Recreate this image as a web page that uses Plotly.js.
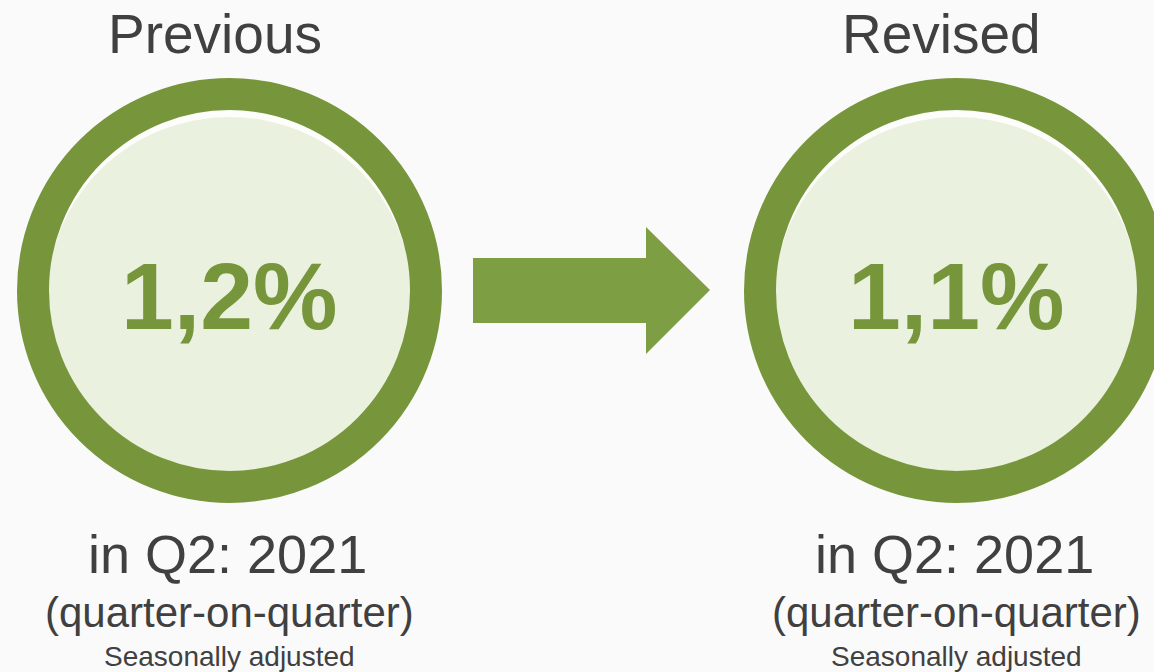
<!DOCTYPE html>
<html>
<head>
<meta charset="utf-8">
<script src="https://cdn.plot.ly/plotly-3.0.1.min.js"></script>
<style>
html,body{margin:0;padding:0;background:#FAFAFA;overflow:hidden;}
#chart{width:1154px;height:672px;}
#chart text{font-kerning:none;font-feature-settings:"kern" 0;}
</style>
</head>
<body>
<div id="chart"></div>
<script>
// Data
const stages = ["Previous", "Revised"];
const growthValues = [1.2, 1.1];
const periodLabel = "in Q2: 2021";
const basisLabel = "(quarter-on-quarter)";
const adjustmentLabel = "Seasonally adjusted";

// Layout geometry (pixel-space axes)
const W = 1154, H = 672;
const centersX = [229.5, 956.5];
const centerY = 290.5;
const outerR = 212.5;
const ringW = 32;
const ring = "#77963C";
const fillC = "#EBF1DF";
const glossC = "#FDFDFB";
const arrowC = "#7E9E43";
const textC = "#404040";
const fontFam = "Liberation Sans, Arial, sans-serif";

const shapes = [];
const annotations = [];

stages.forEach((s, i) => {
  const cx = centersX[i];
  const innerR = outerR - ringW + 1;
  // white gloss base
  shapes.push({
    type: "circle", xref: "x", yref: "y",
    x0: cx - innerR, x1: cx + innerR, y0: centerY - innerR, y1: centerY + innerR,
    fillcolor: glossC, line: {width: 0}, layer: "below"
  });
  // light fill, shifted down at top to leave a gloss crescent
  shapes.push({
    type: "circle", xref: "x", yref: "y",
    x0: cx - innerR, x1: cx + innerR, y0: centerY - innerR + 8, y1: centerY + innerR,
    fillcolor: fillC, line: {width: 0}, layer: "below"
  });
  const r = outerR - ringW / 2;
  shapes.push({
    type: "circle", xref: "x", yref: "y",
    x0: cx - r, x1: cx + r, y0: centerY - r, y1: centerY + r,
    fillcolor: "rgba(0,0,0,0)", line: {color: ring, width: ringW}, layer: "below"
  });
  const tx = i === 0 ? 215 : 941;
  annotations.push({x: tx, y: 34, xref: "x", yref: "y", text: s, showarrow: false,
    xanchor: "center", yanchor: "middle", font: {family: fontFam, size: 55, color: textC}});
  annotations.push({x: cx, y: 296, xref: "x", yref: "y",
    text: "<b>" + growthValues[i].toFixed(1).replace(".", ",") + "%</b>", showarrow: false,
    xanchor: "center", yanchor: "middle", font: {family: fontFam, size: 95, color: ring}});
  const bx = i === 0 ? 227 : 954;
  annotations.push({x: bx, y: 554, xref: "x", yref: "y", text: periodLabel, showarrow: false,
    xanchor: "center", yanchor: "middle", font: {family: fontFam, size: 54, color: textC}});
  annotations.push({x: bx + 2, y: 612, xref: "x", yref: "y", text: basisLabel, showarrow: false,
    xanchor: "center", yanchor: "middle", font: {family: fontFam, size: 42, color: textC}});
  annotations.push({x: bx + 2, y: 656, xref: "x", yref: "y", text: adjustmentLabel, showarrow: false,
    xanchor: "center", yanchor: "middle", font: {family: fontFam, size: 28, color: textC}});
});

// Arrow between circles
shapes.push({
  type: "path", xref: "x", yref: "y",
  path: "M 473 258 L 646 258 L 646 227 L 710 290 L 646 354 L 646 323 L 473 323 Z",
  fillcolor: arrowC, line: {width: 0}, layer: "below"
});

const layout = {
  width: W, height: H,
  margin: {l: 0, r: 0, t: 0, b: 0},
  paper_bgcolor: "#FAFAFA", plot_bgcolor: "#FAFAFA",
  xaxis: {range: [0, W], visible: false, fixedrange: true},
  yaxis: {range: [H, 0], visible: false, fixedrange: true},
  showlegend: false,
  shapes: shapes,
  annotations: annotations
};

Plotly.newPlot("chart", [{x: [], y: [], type: "scatter", hoverinfo: "skip"}], layout, {displayModeBar: false, staticPlot: true});
</script>
</body>
</html>
